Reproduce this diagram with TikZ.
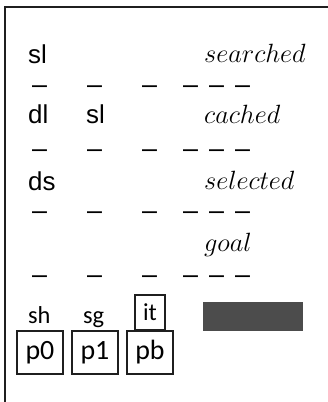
\RequirePackage{fix-cm}
\documentclass[tikz,border=0pt]{standalone}
\usepackage{fontspec}
\newfontfamily\lsans{Liberation Sans}
\newfontfamily\csans{Carlito}
\begin{document}
\begin{tikzpicture}[x=1bp,y=-1bp,
  frameline/.style={line width=2bp,draw=black!88},
  rowtxt/.style={anchor=base west,inner sep=0pt,font=\lsans\fontsize{26}{26}\selectfont},
  mathtxt/.style={anchor=base west,inner sep=0pt,font=\fontsize{26.5}{26.5}\selectfont},
  dashtxt/.style={anchor=base,inner sep=0pt,font=\lsans\fontsize{27}{27}\selectfont},
  lowtxt/.style={anchor=base west,inner sep=0pt,font=\csans\fontsize{24.5}{24.5}\selectfont},
  pbox/.style={draw=black!88,line width=2bp,minimum width=46bp,minimum height=43bp,inner sep=0pt,font=\csans\fontsize{28}{28}\selectfont},
  itbox/.style={draw=black!88,line width=2bp,minimum width=30bp,minimum height=35bp,inner sep=0pt,font=\csans\fontsize{24.5}{24.5}\selectfont},
]
\useasboundingbox (0,0) rectangle (328,402);
\coordinate (ftr) at (328,6.5);
\coordinate (ftl) at (5.5,6.5);
\coordinate (fbl) at (5.5,402);
\draw[frameline] (ftr) -- (ftl) -- (fbl);
% rows
\node[rowtxt] (r1a) at (28,63) {sl};
\node[mathtxt] (r1m) at (204,62) {$searched$};
\node[rowtxt] (r2a) at (28,123) {dl};
\node[rowtxt] (r2b) at (86,123) {sl};
\node[mathtxt] (r2m) at (204,123) {$cached$};
\node[rowtxt] (r3a) at (28,190) {ds};
\node[mathtxt] (r3m) at (204,189) {$selected$};
\node[mathtxt] (r4m) at (204,251) {$goal$};
% dashes
\foreach \yy/\rr in {93.5/a,157.5/b,219.5/c,283/d}{
  \foreach \xx/\cc in {39.5/1,94.5/2,149.5/3,190.5/4,216.5/5,242.5/6}{
    \node[dashtxt] (d\rr\cc) at (\xx,\yy) {\textendash};
  }
}
% bottom
\node[lowtxt] (sh) at (28,323) {sh};
\node[lowtxt] (sg) at (83,323) {sg};
\node[itbox] (it) at (150,312.5) {it};
\node[pbox] (p0) at (40,352.5) {p0};
\node[pbox] (p1) at (95,352.5) {p1};
\node[pbox] (pb) at (150,352.5) {pb};
\fill[fill=black!70] (203,302) rectangle (303,331);
\end{tikzpicture}
\end{document}
